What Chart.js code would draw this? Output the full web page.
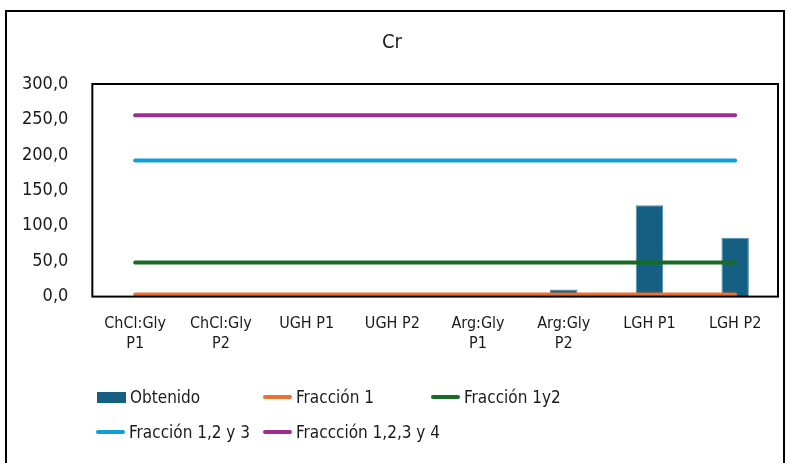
<!DOCTYPE html>
<html>
<head>
<meta charset="utf-8">
<script src="https://cdn.jsdelivr.net/npm/chart.js@4/dist/chart.umd.min.js"></script>
<style>
    body { margin: 0; background: #fff; font-family: "DejaVu Sans Condensed", "Liberation Sans", sans-serif; }
    #wrap { position: relative; width: 790px; height: 463px; overflow: hidden; }
    #frame { position: absolute; left: 5px; top: 10px; width: 780px; height: 470px; border: 2px solid #000; box-sizing: border-box; }
    #crChart { position: absolute; left: 0; top: 0; }
    .leg { position: absolute; font-size: 17px; color: #1a1a1a; display: flex; align-items: center; white-space: nowrap; }
    .sw { display: inline-block; width: 29px; margin-right: 4px; }
</style>
</head>
<body>
<div id="wrap">
    <div id="frame"></div>
    <canvas id="crChart" width="790" height="463"></canvas>
    <div id="legend"></div>
</div>
<script>
const categories = [['ChCl:Gly', 'P1'], ['ChCl:Gly', 'P2'], 'UGH P1', 'UGH P2', ['Arg:Gly', 'P1'], ['Arg:Gly', 'P2'], 'LGH P1', 'LGH P2'];
const obtenido = [0, 0, 0, 0, 0, 10, 129, 83];
const fraccion1 = [3, 3, 3, 3, 3, 3, 3, 3];
const fraccion12 = [48, 48, 48, 48, 48, 48, 48, 48];
const fraccion123 = [192, 192, 192, 192, 192, 192, 192, 192];
const fraccion1234 = [256, 256, 256, 256, 256, 256, 256, 256];
const yTicks = [0, 50, 100, 150, 200, 250, 300];

const FONT = '"DejaVu Sans Condensed", "Liberation Sans", sans-serif';

// black box around the plot area
const plotBorder = {
    id: 'plotBorder',
    afterDraw(chart) {
        const a = chart.chartArea, ctx = chart.ctx;
        ctx.save();
        ctx.strokeStyle = '#000';
        ctx.lineWidth = 2;
        ctx.strokeRect(a.left, a.top, a.right - a.left, a.bottom - a.top);
        ctx.restore();
    }
};

function lineSet(label, data, color) {
    return {
        type: 'line',
        label: label,
        data: data,
        borderColor: color,
        backgroundColor: color,
        borderWidth: 4,
        borderCapStyle: 'round',
        pointRadius: 0,
        order: 1
    };
}

const chart = new Chart(document.getElementById('crChart'), {
    type: 'bar',
    data: {
        labels: categories,
        datasets: [{
            label: 'Obtenido',
            data: obtenido,
            backgroundColor: '#156082',
            borderColor: '#4f8fae',
            borderWidth: 1,
            barPercentage: 0.64,
            categoryPercentage: 0.5,
            order: 2
        },
        lineSet('Fracción 1', fraccion1, '#E97132'),
        lineSet('Fracción 1y2', fraccion12, '#196B24'),
        lineSet('Fracción 1,2 y 3', fraccion123, '#0F9ED5'),
        lineSet('Fraccción 1,2,3 y 4', fraccion1234, '#A02B93')]
    },
    options: {
        responsive: false,
        animation: false,
        layout: { padding: { left: 6, right: 12, top: 0, bottom: 100 } },
        plugins: {
            legend: { display: false },
            tooltip: { enabled: false },
            title: {
                display: true,
                text: 'Cr',
                color: '#1a1a1a',
                font: { family: FONT, size: 20, weight: 'normal' },
                padding: { top: 31, bottom: 29 }
            }
        },
        scales: {
            x: {
                grid: { display: false },
                border: { display: false },
                ticks: {
                    color: '#1a1a1a',
                    font: { family: FONT, size: 16 },
                    maxRotation: 0,
                    autoSkip: false,
                    padding: 10
                }
            },
            y: {
                min: 0,
                max: 300,
                afterBuildTicks: function(axis) {
                    axis.ticks = yTicks.map(v => ({ value: v }));
                },
                grid: { display: false },
                border: { display: false },
                ticks: {
                    color: '#1a1a1a',
                    font: { family: FONT, size: 18 },
                    padding: 16,
                    callback: function(value) {
                        return value.toFixed(1).replace('.', ',');
                    }
                }
            }
        }
    },
    plugins: [plotBorder]
});

// legend laid out in a grid like the original
const legendPos = [[97, 398], [263, 398], [431, 398], [96, 433], [263, 433]];
const legendEl = document.getElementById('legend');
chart.data.datasets.forEach(function(ds, i) {
    const item = document.createElement('div');
    item.className = 'leg';
    item.style.left = legendPos[i][0] + 'px';
    item.style.top = (legendPos[i][1] - 11) + 'px';
    const sw = document.createElement('span');
    sw.className = 'sw';
    if (ds.type === 'line') {
        sw.style.height = '4px';
        sw.style.borderRadius = '2px';
        sw.style.background = ds.borderColor;
    } else {
        sw.style.height = '11px';
        sw.style.background = ds.backgroundColor;
    }
    item.appendChild(sw);
    item.appendChild(document.createTextNode(ds.label));
    legendEl.appendChild(item);
});
</script>
</body>
</html>
